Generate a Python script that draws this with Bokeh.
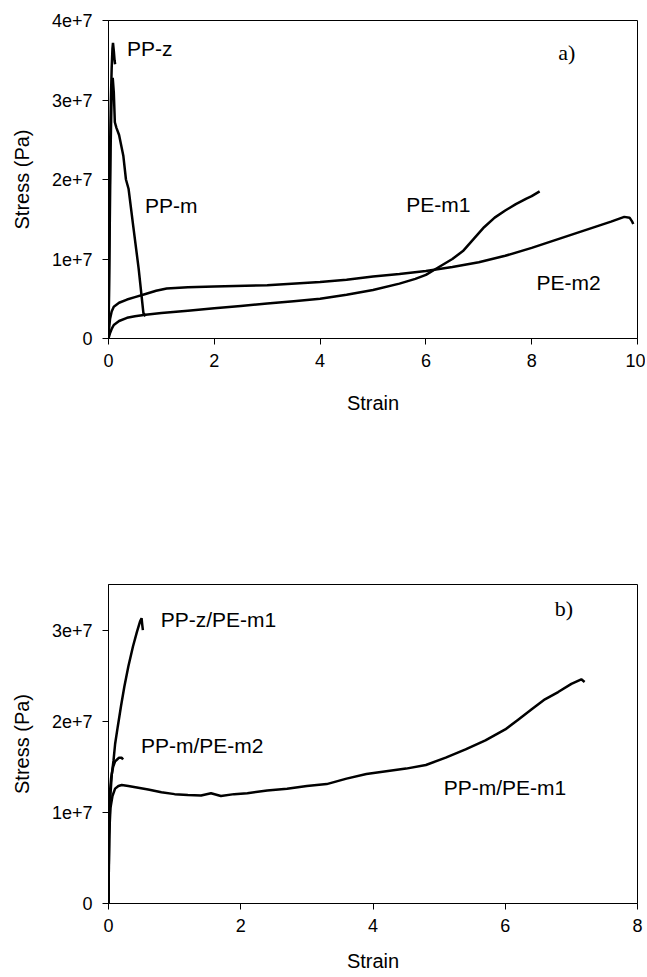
from bokeh.plotting import figure
from bokeh.models import Range1d, FixedTicker, CustomJSTickFormatter, Label
from bokeh.layouts import column
from bokeh.embed import file_html
from bokeh.resources import INLINE

# ---------------- data: panel a) ----------------
ppz_strain = [0, 0.01, 0.02, 0.03, 0.045, 0.06, 0.075, 0.085, 0.1, 0.115, 0.125]
ppz_stress = [0, 0.8e7, 1.6e7, 2.4e7, 3.0e7, 3.4e7, 3.65e7, 3.72e7, 3.62e7, 3.5e7, 3.45e7]

ppm_strain = [0, 0.02, 0.04, 0.06, 0.08, 0.1, 0.12, 0.15, 0.2, 0.28, 0.33, 0.38, 0.47, 0.57, 0.66, 0.7]
ppm_stress = [0, 1.2e7, 2.4e7, 3.1e7, 3.28e7, 3.1e7, 2.72e7, 2.65e7, 2.56e7, 2.3e7, 2.0e7,
              1.88e7, 1.4e7, 0.88e7, 0.32e7, 0.28e7]

pem1_strain = [0, 0.03, 0.06, 0.1, 0.2, 0.35, 0.5, 0.7, 1.0, 1.5, 2.0, 2.5, 3.0, 3.5, 4.0, 4.5,
               5.0, 5.5, 5.8, 6.0, 6.2, 6.5, 6.7, 6.9, 7.1, 7.3, 7.5, 7.7, 7.9, 8.0, 8.15]
pem1_stress = [0, 0.07e7, 0.12e7, 0.17e7, 0.22e7, 0.26e7, 0.28e7, 0.3e7, 0.32e7, 0.35e7, 0.38e7,
               0.41e7, 0.44e7, 0.47e7, 0.5e7, 0.55e7, 0.61e7, 0.69e7, 0.75e7, 0.8e7, 0.88e7,
               1.0e7, 1.1e7, 1.25e7, 1.4e7, 1.52e7, 1.61e7, 1.69e7, 1.76e7, 1.79e7, 1.85e7]

pem2_strain = [0, 0.01, 0.03, 0.06, 0.1, 0.2, 0.35, 0.5, 0.7, 0.9, 1.1, 1.5, 2.0, 3.0, 4.0, 4.5,
               5.0, 5.5, 6.0, 6.5, 7.0, 7.5, 8.0, 8.5, 9.0, 9.5, 9.75, 9.85, 9.9, 9.92]
pem2_stress = [0, 0.12e7, 0.25e7, 0.34e7, 0.4e7, 0.45e7, 0.49e7, 0.52e7, 0.56e7, 0.6e7, 0.63e7,
               0.645e7, 0.655e7, 0.67e7, 0.71e7, 0.74e7, 0.78e7, 0.81e7, 0.85e7, 0.9e7, 0.96e7,
               1.04e7, 1.14e7, 1.25e7, 1.36e7, 1.47e7, 1.53e7, 1.52e7, 1.47e7, 1.44e7]

# ---------------- data: panel b) ----------------
zm1_strain = [0, 0.005, 0.01, 0.02, 0.03, 0.05, 0.076, 0.1, 0.14, 0.19, 0.24, 0.3, 0.37, 0.43,
              0.48, 0.5, 0.51, 0.52]
zm1_stress = [0, 0.4e7, 0.7e7, 1.0e7, 1.2e7, 1.42e7, 1.57e7, 1.75e7, 1.94e7, 2.17e7, 2.38e7,
              2.6e7, 2.82e7, 2.98e7, 3.1e7, 3.13e7, 3.06e7, 3.0e7]

mm2_strain = [0, 0.005, 0.01, 0.02, 0.04, 0.07, 0.1, 0.13, 0.16, 0.2, 0.22]
mm2_stress = [0, 0.5e7, 0.9e7, 1.2e7, 1.38e7, 1.5e7, 1.56e7, 1.58e7, 1.6e7, 1.6e7, 1.58e7]

mm1_strain = [0, 0.005, 0.01, 0.03, 0.06, 0.1, 0.15, 0.2, 0.3, 0.45, 0.6, 0.8, 1.0, 1.2, 1.4,
              1.55, 1.7, 1.9, 2.1, 2.4, 2.7, 3.0, 3.3, 3.6, 3.9, 4.2, 4.5, 4.8, 5.1, 5.4, 5.7,
              6.0, 6.2, 6.4, 6.6, 6.8, 7.0, 7.15, 7.2]
mm1_stress = [0, 0.4e7, 0.75e7, 1.05e7, 1.18e7, 1.26e7, 1.29e7, 1.3e7, 1.29e7, 1.27e7, 1.25e7,
              1.22e7, 1.2e7, 1.19e7, 1.185e7, 1.21e7, 1.18e7, 1.2e7, 1.21e7, 1.24e7, 1.26e7,
              1.29e7, 1.31e7, 1.37e7, 1.42e7, 1.45e7, 1.48e7, 1.52e7, 1.6e7, 1.69e7, 1.79e7,
              1.91e7, 2.02e7, 2.13e7, 2.24e7, 2.32e7, 2.41e7, 2.46e7, 2.43e7]

xticks_a = [0, 2, 4, 6, 8, 10]
yticks_a = [0, 1e7, 2e7, 3e7, 4e7]
xticks_b = [0, 2, 4, 6, 8]
yticks_b = [0, 1e7, 2e7, 3e7]

labels_a = [("PP-z", 0.35, 3.65e7), ("PP-m", 0.69, 1.67e7), ("PE-m1", 5.63, 1.69e7),
            ("PE-m2", 8.09, 0.70e7)]
labels_b = [("PP-z/PE-m1", 0.79, 3.12e7), ("PP-m/PE-m2", 0.49, 1.73e7),
            ("PP-m/PE-m1", 5.07, 1.27e7)]

SANS = "Liberation Sans"
SERIF = "Liberation Serif"

yfmt = CustomJSTickFormatter(code="""
if (tick == 0) { return "0"; }
return (tick / 1e7).toFixed(0) + "e+7";
""")


def style(p, xticks, yticks, x_label_standoff):
    p.xgrid.visible = False
    p.ygrid.visible = False
    p.outline_line_color = "black"
    p.outline_line_width = 1
    p.background_fill_color = "white"
    p.border_fill_color = "white"
    for ax in (p.xaxis[0], p.yaxis[0]):
        ax.axis_line_color = "black"
        ax.axis_line_width = 1
        ax.major_tick_line_color = "black"
        ax.major_tick_in = 0
        ax.major_tick_out = 6
        ax.minor_tick_line_color = None
        ax.major_label_text_font = SANS
        ax.major_label_text_font_size = "18px"
        ax.major_label_text_color = "black"
        ax.axis_label_text_font = SANS
        ax.axis_label_text_font_size = "20px"
        ax.axis_label_text_font_style = "normal"
        ax.axis_label_text_color = "black"
    p.xaxis[0].ticker = FixedTicker(ticks=xticks)
    p.yaxis[0].ticker = FixedTicker(ticks=yticks)
    p.yaxis[0].formatter = yfmt
    p.xaxis[0].major_label_standoff = 9
    p.yaxis[0].major_label_standoff = 10
    p.xaxis[0].axis_label_standoff = x_label_standoff
    p.yaxis[0].axis_label_standoff = 16


# ---------------- panel a ----------------
pa = figure(width=645, height=424, output_backend="svg", toolbar_location=None,
            x_range=Range1d(0, 10), y_range=Range1d(0, 4e7),
            x_axis_label="Strain", y_axis_label="Stress (Pa)",
            min_border_left=108, min_border_right=8, min_border_top=20, min_border_bottom=86)
style(pa, xticks_a, yticks_a, 22)
for xs, ys in [(pem1_strain, pem1_stress), (pem2_strain, pem2_stress),
               (ppm_strain, ppm_stress), (ppz_strain, ppz_stress)]:
    pa.line(xs, ys, line_color="black", line_width=2.5)
for txt, x, y in labels_a:
    pa.add_layout(Label(x=x, y=y, text=txt, text_font=SANS, text_font_size="21px",
                        text_baseline="middle", text_align="left", text_color="black"))
pa.add_layout(Label(x=8.5, y=3.6e7, text="a)", text_font=SERIF, text_font_size="22px",
                    text_baseline="middle", text_align="left", text_color="black"))

# ---------------- panel b ----------------
pb = figure(width=645, height=553, output_backend="svg", toolbar_location=None,
            x_range=Range1d(0, 8), y_range=Range1d(0, 3.5e7),
            x_axis_label="Strain", y_axis_label="Stress (Pa)",
            min_border_left=108, min_border_right=8, min_border_top=160, min_border_bottom=74)
style(pb, xticks_b, yticks_b, 15)
for xs, ys in [(mm1_strain, mm1_stress), (mm2_strain, mm2_stress), (zm1_strain, zm1_stress)]:
    pb.line(xs, ys, line_color="black", line_width=2.5)
for txt, x, y in labels_b:
    pb.add_layout(Label(x=x, y=y, text=txt, text_font=SANS, text_font_size="21px",
                        text_baseline="middle", text_align="left", text_color="black"))
pb.add_layout(Label(x=6.75, y=3.24e7, text="b)", text_font=SERIF, text_font_size="22px",
                    text_baseline="middle", text_align="left", text_color="black"))

layout = column(pa, pb, spacing=0)
open("out.html", "w").write(file_html(layout, INLINE))
